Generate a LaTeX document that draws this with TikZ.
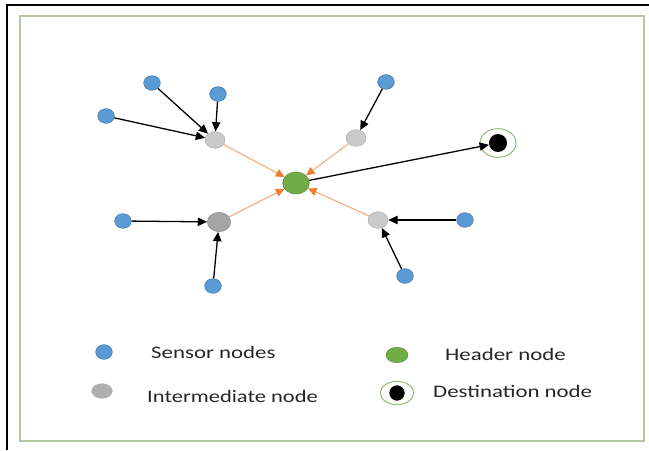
\documentclass[tikz,border=0pt]{standalone}
\usepackage{fontspec}
\setmainfont{Carlito}
\usetikzlibrary{arrows.meta,shapes.geometric}
\definecolor{sensorfill}{HTML}{5B9BD5}
\definecolor{sensorline}{HTML}{41719C}
\definecolor{headfill}{HTML}{70AD47}
\definecolor{headline}{HTML}{548235}
\definecolor{lightrelay}{HTML}{CACACA}
\definecolor{darkrelay}{HTML}{A5A5A5}
\definecolor{relayline}{HTML}{F4B183}
\definecolor{relaytip}{HTML}{ED7D31}
\definecolor{framegreen}{HTML}{B5C79C}
\definecolor{ringgreen}{HTML}{8DB870}
\definecolor{labelgray}{HTML}{262626}
\begin{document}
\begin{tikzpicture}[x=0.03cm, y=-0.03cm,
		sensor/.style={ellipse, fill=sensorfill, draw=sensorline, line width=0.4pt, minimum width=0.5cm, minimum height=0.44cm, inner sep=0pt},
		relaynode/.style={ellipse, fill=lightrelay, draw=lightrelay!85!black, line width=0.4pt, minimum width=0.6cm, minimum height=0.5cm, inner sep=0pt},
		header/.style={ellipse, fill=headfill, draw=headline, line width=0.4pt, minimum width=0.8cm, minimum height=0.66cm, inner sep=0pt},
		feed/.style={line width=1.1pt, -{Triangle[length=0.28cm, width=0.25cm]}},
		relay/.style={draw=relayline, line width=1pt, -{Triangle[length=0.26cm, width=0.24cm, color=relaytip]}},
		legendtext/.style={anchor=base west, text=labelgray, font=\fontsize{15}{18}\selectfont, inner sep=0pt}]
	\useasboundingbox (0,0) rectangle (649,450);
	\draw[line width=2pt] (7,450) -- (7,5) -- (649,5);
	\draw[framegreen, line width=1.2pt] (20,16) rectangle (644,441);
	% sensors
	\node[sensor] (s1) at (152,83) {};
	\node[sensor] (s2) at (218,94) {};
	\node[sensor] (s3) at (106,116) {};
	\node[sensor] (s4) at (386,82) {};
	\node[sensor] (s5) at (123,221) {};
	\node[sensor] (s6) at (213,286) {};
	\node[sensor] (s7) at (465,220) {};
	\node[sensor] (s8) at (405,276) {};
	% intermediate nodes
	\node[relaynode] (i1) at (215,140) {};
	\node[relaynode] (i2) at (356,138) {};
	\node[relaynode, fill=darkrelay, draw=darkrelay!85!black, minimum width=0.7cm, minimum height=0.58cm] (i3) at (219,222) {};
	\node[relaynode] (i4) at (378,220) {};
	% header and destination
	\node[header] (head) at (296,183) {};
	\node[ellipse, draw=ringgreen, line width=0.8pt, minimum width=1.08cm, minimum height=0.86cm] (ring) at (498,143) {};
	\node[circle, fill=black, minimum size=0.54cm, inner sep=0pt] (dest) at (498,143) {};
	\foreach \a/\b in {s1/i1, s2/i1, s3/i1, s4/i2, s5/i3, s6/i3, s7/i4, s8/i4}
		\draw[feed] (\a) -- (\b);
	\foreach \a in {i1,i2,i3,i4}
		\draw[relay] (\a) -- (head);
	\draw[feed] (head) -- (dest);
	% legend
	\node[sensor] (ksens) at (104,352) {};
	\node[legendtext] (tsens) at (151,358) {\scalebox{1.3}[1]{Sensor nodes}};
	\node[header, minimum width=0.66cm, minimum height=0.46cm] (khead) at (397,355) {};
	\node[legendtext] (thead) at (445,360) {\scalebox{1.3}[1]{Header node}};
	\node[relaynode, fill=darkrelay!90, draw=darkrelay!90, minimum width=0.62cm, minimum height=0.44cm] (krelay) at (102,391) {};
	\node[legendtext] (trelay) at (147,402) {\scalebox{1.28}[1]{Intermediate node}};
	\node[ellipse, draw=ringgreen, line width=0.8pt, minimum width=1cm, minimum height=0.7cm] (kring) at (397,393) {};
	\node[circle, fill=black, minimum size=0.46cm, inner sep=0pt] (kdest) at (397,393) {};
	\node[legendtext] (tdest) at (433,397) {\scalebox{1.3}[1]{Destination node}};
\end{tikzpicture}
\end{document}
